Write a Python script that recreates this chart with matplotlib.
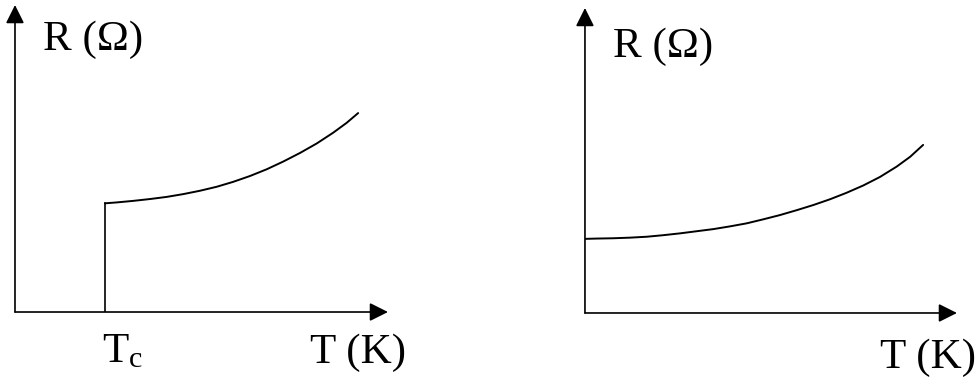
import matplotlib
matplotlib.use('Agg')
import matplotlib.pyplot as plt

plt.rcParams['font.family'] = ['Liberation Serif', 'DejaVu Serif']
plt.rcParams['mathtext.fontset'] = 'custom'
plt.rcParams['mathtext.rm'] = 'Liberation Serif'
plt.rcParams['mathtext.it'] = 'Liberation Serif:italic'

# superconductor: resistance drops to zero below Tc (arbitrary units)
Tc = 24.1
T_sc = [24.1, 27.3, 31.7, 36.2, 40.7, 45.1, 49.6, 54.1, 58.5,
        63.0, 67.5, 71.9, 76.4, 80.9, 85.3, 88.9, 92.0]
R_sc = [35.4, 35.7, 36.2, 36.8, 37.5, 38.4, 39.5, 40.8, 42.4,
        44.3, 46.5, 49.0, 51.8, 54.9, 58.4, 61.6, 64.8]

# normal metal: finite residual resistance at T = 0
T_n = [0.0, 3.1, 7.6, 12.1, 16.6, 21.0, 25.5, 30.0, 34.5, 39.0, 43.5,
       47.9, 52.4, 56.9, 61.4, 65.9, 70.3, 74.8, 79.3, 83.8, 87.4, 90.9]
R_n = [24.3, 24.4, 24.5, 24.7, 25.0, 25.5, 26.1, 26.8, 27.5, 28.4, 29.4,
       30.7, 32.1, 33.7, 35.4, 37.3, 39.4, 41.8, 44.6, 48.0, 51.2, 55.1]

FS = 31

fig = plt.figure(figsize=(9.8, 3.77), dpi=100)
ax1 = fig.add_axes([0.0153, 0.1724, 0.3806, 0.8143])
ax2 = fig.add_axes([0.5969, 0.1698, 0.3796, 0.8090])


def draw_axes(ax):
    ax.set_xlim(0, 100)
    ax.set_ylim(0, 100)
    ax.axis('off')
    arrow = dict(arrowstyle='-|>', color='k', lw=1.2, mutation_scale=28,
                 shrinkA=0, shrinkB=0)
    ax.annotate('', xy=(1, 0), xytext=(0, 0), xycoords='axes fraction',
                arrowprops=arrow)
    ax.annotate('', xy=(0, 1), xytext=(0, 0), xycoords='axes fraction',
                arrowprops=arrow)


draw_axes(ax1)
draw_axes(ax2)

# left: superconducting transition
ax1.plot([Tc, Tc], [0, R_sc[0]], color='k', lw=1.2)
ax1.plot(T_sc, R_sc, color='k', lw=1.4, solid_capstyle='round',
         solid_joinstyle='round')
ax1.text(0.075, 0.853, 'R (Ω)', transform=ax1.transAxes, fontsize=FS,
         va='baseline', ha='left')
ax1.text(0.791, -0.166, 'T (K)', transform=ax1.transAxes, fontsize=FS,
         va='baseline', ha='left')
xt = ax1.get_xaxis_transform()
ax1.text(Tc - 0.8, -0.163, r'T$_{\mathrm{c}}$', transform=xt, fontsize=FS,
         va='baseline', ha='left')

# right: normal metal
ax2.plot(T_n, R_n, color='k', lw=1.4, solid_capstyle='round',
         solid_joinstyle='round')
ax2.text(0.075, 0.839, 'R (Ω)', transform=ax2.transAxes, fontsize=FS,
         va='baseline', ha='left')
ax2.text(0.793, -0.180, 'T (K)', transform=ax2.transAxes, fontsize=FS,
         va='baseline', ha='left')

fig.savefig('out.png', dpi=100, facecolor='white')
